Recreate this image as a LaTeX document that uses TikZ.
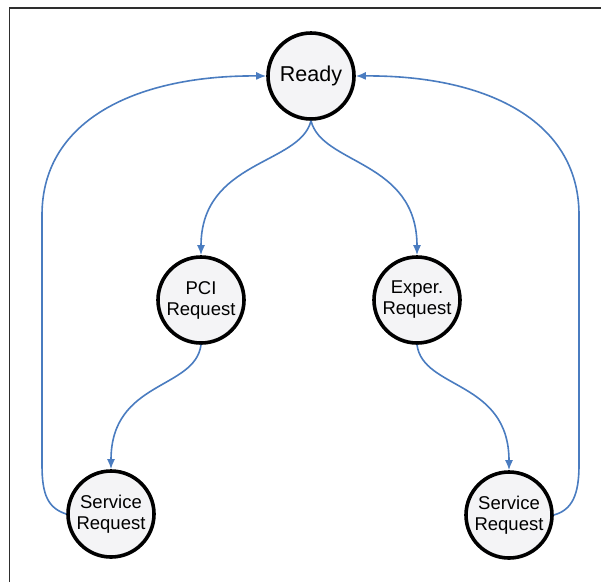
\documentclass[tikz,border=0pt]{standalone}
\usepackage{fontspec}
\setmainfont{Liberation Sans}
\usetikzlibrary{arrows.meta}
\definecolor{flowblue}{HTML}{4A7CC0}
\definecolor{statefill}{HTML}{F4F4F6}
\definecolor{framegray}{HTML}{2E2E2E}
\begin{document}
\begin{tikzpicture}[x=1pt,y=-1pt,
  state/.style={circle,draw=black,line width=3.6pt,fill=statefill,
    minimum size=86pt,inner sep=0pt,align=center,
    font=\fontsize{18.5}{21}\selectfont},
  flow/.style={draw=flowblue,line width=1.6pt,
    -{Latex[length=10pt,width=8pt]}}]
\useasboundingbox (0,0) rectangle (601,582);
% frame
\draw[framegray,line width=1.8pt] (9.5,582) -- (9.5,8) -- (601,8);
% states
\node[state,font=\fontsize{21.5}{24}\selectfont] (ready) at (311,76) {Ready};
\node[state] (pci) at (201,300) {PCI\\Request};
\node[state] (exper) at (417,300) {Exper.\\Request};
\node[state] (svcl) at (111,514) {Service\\Request};
\node[state] (svcr) at (509,515) {Service\\Request};
% transitions
\draw[flow] (ready.south) .. controls (300,165) and (201,160) .. (pci.north);
\draw[flow] (ready.south) .. controls (322,165) and (417,160) .. (exper.north);
\draw[flow] (pci.south) .. controls (195,390) and (111,380) .. (svcl.north);
\draw[flow] (exper.south) .. controls (423,390) and (509,380) .. (svcr.north);
\draw[flow] (svcl.west) .. controls (48,508) and (42,495) .. (42,465)
  -- (42,215) .. controls (42,118) and (140,75) .. (ready.west);
\draw[flow] (svcr.east) .. controls (572,510) and (579,495) .. (579,465)
  -- (579,215) .. controls (579,118) and (482,75) .. (ready.east);
\end{tikzpicture}
\end{document}
